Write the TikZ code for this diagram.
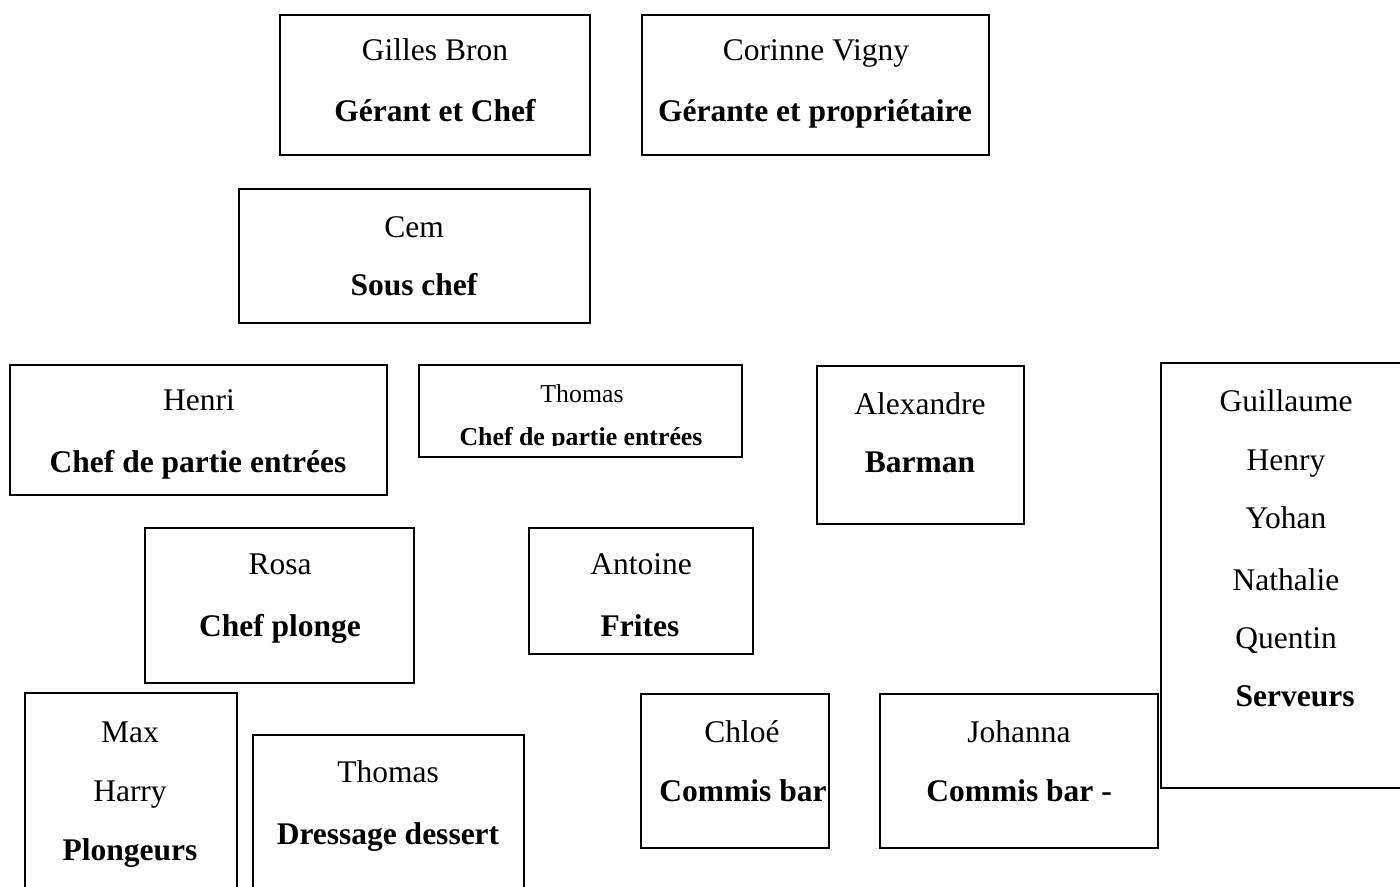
\documentclass[tikz,border=0pt]{standalone}
\usepackage{fontspec}
\setmainfont{Liberation Serif}
\usetikzlibrary{fit}
\begin{document}
\begin{tikzpicture}[x=0.5pt,y=-0.5pt,
  box/.style={draw=black, line width=1.4pt, rectangle, inner sep=0pt},
  nm/.style={anchor=base, inner sep=0pt, font=\fontsize{15.75}{18}\selectfont},
  role/.style={anchor=base, inner sep=0pt, font=\fontsize{15.75}{18}\selectfont\bfseries},
  smallnm/.style={anchor=base, inner sep=0pt, font=\fontsize{12.9}{15}\selectfont},
  smallrole/.style={anchor=base, inner sep=0pt, font=\fontsize{12.9}{15}\selectfont\bfseries}]
\useasboundingbox (0,0) rectangle (1400,887);
\clip (0,0) rectangle (1400,887);

% boxes
\node[box, fit={(280,15) (590,155)}] (bgilles) {};
\node[box, fit={(642,15) (989,155)}] (bcorinne) {};
\node[box, fit={(239,189) (590,323)}] (bcem) {};
\node[box, fit={(10,365) (387,495)}] (bhenri) {};
\node[box, fit={(419,365) (742,457)}] (bthomas) {};
\node[box, fit={(817,366) (1024,524)}] (balex) {};
\node[box, fit={(1161,363) (1412,788)}] (bserv) {};
\node[box, fit={(145,528) (414,683)}] (brosa) {};
\node[box, fit={(529,528) (753,654)}] (bantoine) {};
\node[box, fit={(25,693) (237,900)}] (bmax) {};
\node[box, fit={(253,735) (524,900)}] (bdessert) {};
\node[box, fit={(641,694) (829,848)}] (bchloe) {};
\node[box, fit={(880,694) (1158,848)}] (bjohanna) {};

% texts
\node[nm] (tgilles) at (435,61) {Gilles Bron};
\node[role] (rgilles) at (435,122) {Gérant et Chef};
\node[nm] (tcorinne) at (816,61) {Corinne Vigny};
\node[role] (rcorinne) at (815,122) {Gérante et propriétaire};
\node[nm] (tcem) at (414,238) {Cem};
\node[role] (rcem) at (414,296) {Sous chef};
\node[nm] (thenri) at (199,410) {Henri};
\node[role] (rhenri) at (198,472) {Chef de partie entrées};
\node[smallnm] (tthomas) at (582,402) {Thomas};
\begin{scope}
\clip (419,365) rectangle (742,445);
\node[smallrole] (rthomas) at (581,445) {Chef de partie entrées};
\end{scope}
\node[nm] (talex) at (920,414) {Alexandre};
\node[role] (ralex) at (920,472) {Barman};
\node[nm] (tguil) at (1286,411) {Guillaume};
\node[nm] (thenry) at (1286,470) {Henry};
\node[nm] (tyohan) at (1286,528) {Yohan};
\node[nm] (tnath) at (1286,590) {Nathalie};
\node[nm] (tquentin) at (1286,648) {Quentin};
\node[role] (rserv) at (1295,706) {Serveurs};
\node[nm] (trosa) at (280,574) {Rosa};
\node[role] (rrosa) at (280,636) {Chef plonge};
\node[nm] (tantoine) at (641,574) {Antoine};
\node[role] (rantoine) at (640,636) {Frites};
\node[nm] (tmax) at (130,742) {Max};
\node[nm] (tharry) at (130,801) {Harry};
\node[role] (rmax) at (130,860) {Plongeurs};
\node[nm] (tdessert) at (388,782) {Thomas};
\node[role] (rdessert) at (388,844) {Dressage dessert};
\node[nm] (tchloe) at (742,742) {Chloé};
\node[role] (rchloe) at (743,801) {Commis bar};
\node[nm] (tjohanna) at (1019,742) {Johanna};
\node[role] (rjohanna) at (1019,801) {Commis bar -};
\end{tikzpicture}
\end{document}
